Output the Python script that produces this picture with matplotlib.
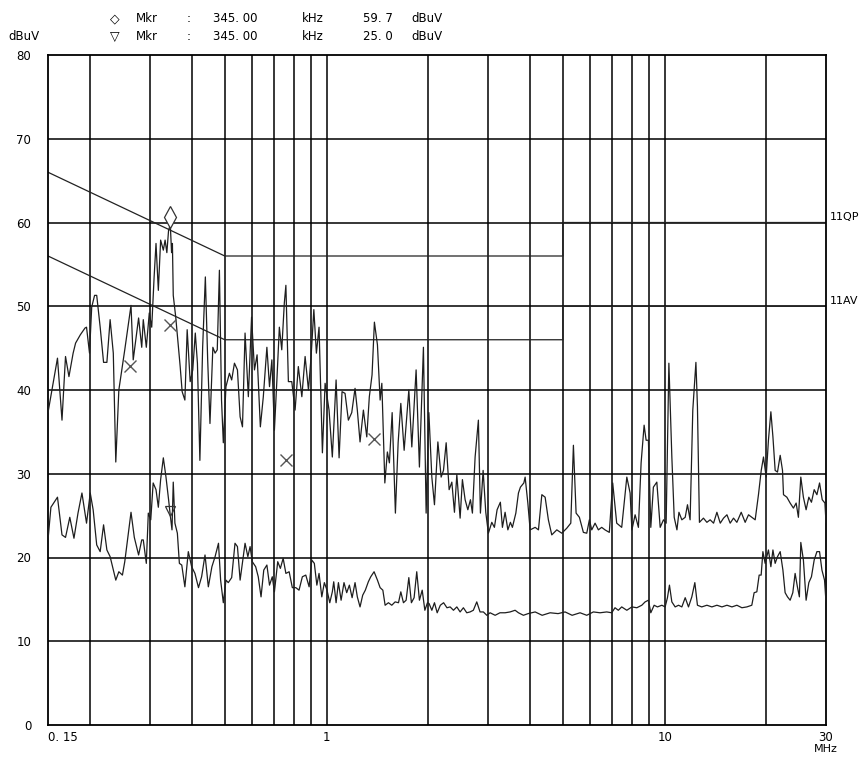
import matplotlib
matplotlib.use("Agg")
import matplotlib.pyplot as plt
from matplotlib.transforms import offset_copy, blended_transform_factory

# --- peak (QP) sweep: frequency in MHz, level in dBuV ---
qp_freq = [
    0.150, 0.160, 0.165, 0.169, 0.173, 0.178, 0.181, 0.187, 0.193, 0.195,
    0.199, 0.202, 0.206, 0.209, 0.214, 0.219, 0.224, 0.229, 0.234, 0.238,
    0.243, 0.253, 0.264, 0.268, 0.271, 0.278, 0.284, 0.287, 0.293, 0.299,
    0.304, 0.309, 0.313, 0.318, 0.323, 0.329, 0.333, 0.337, 0.341, 0.345,
    0.348, 0.350, 0.352, 0.358, 0.363, 0.369, 0.374, 0.381, 0.387, 0.395,
    0.402, 0.409, 0.415, 0.422, 0.430, 0.438, 0.445, 0.452, 0.461, 0.468,
    0.475, 0.482, 0.489, 0.495, 0.504, 0.516, 0.524, 0.534, 0.545, 0.555,
    0.564, 0.574, 0.587, 0.600, 0.612, 0.623, 0.637, 0.650, 0.666, 0.678,
    0.689, 0.701, 0.713, 0.725, 0.737, 0.750, 0.758, 0.771, 0.789, 0.807,
    0.825, 0.845, 0.864, 0.884, 0.900, 0.917, 0.933, 0.950, 0.972, 0.990,
    1.017, 1.040, 1.067, 1.089, 1.111, 1.134, 1.160, 1.187, 1.214, 1.233,
    1.256, 1.285, 1.315, 1.338, 1.363, 1.385, 1.414, 1.440, 1.457, 1.487,
    1.513, 1.534, 1.563, 1.598, 1.628, 1.658, 1.696, 1.751, 1.787, 1.840,
    1.882, 1.934, 1.970, 2.007, 2.048, 2.085, 2.134, 2.182, 2.217, 2.258,
    2.304, 2.347, 2.389, 2.428, 2.483, 2.522, 2.569, 2.617, 2.664, 2.700,
    2.750, 2.812, 2.851, 2.904, 2.957, 3.010, 3.081, 3.136, 3.194, 3.266,
    3.312, 3.373, 3.437, 3.497, 3.545, 3.629, 3.694, 3.744, 3.832, 3.866,
    3.938, 4.000, 4.139, 4.233, 4.332, 4.430, 4.529, 4.635, 4.797, 4.963,
    5.134, 5.276, 5.371, 5.470, 5.594, 5.748, 5.882, 5.988, 6.086, 6.225,
    6.366, 6.512, 6.660, 6.858, 7.019, 7.213, 7.463, 7.727, 7.902, 7.999,
    8.176, 8.362, 8.517, 8.693, 8.813, 8.951, 9.098, 9.260, 9.479, 9.698,
    9.919, 10.10, 10.29, 10.50, 10.67, 10.87, 11.02, 11.24, 11.50, 11.68,
    11.89, 12.11, 12.37, 12.50, 12.67, 13.02, 13.33, 13.63, 13.95, 14.27,
    14.60, 14.93, 15.28, 15.62, 15.98, 16.35, 16.84, 17.30, 17.70, 18.10,
    18.52, 18.94, 19.30, 19.60, 19.96, 20.27, 20.61, 20.90, 21.22, 21.56,
    21.96, 22.31, 22.46, 22.98, 23.50, 24.03, 24.48, 24.86, 25.27, 25.72,
    26.20, 26.69, 27.17, 27.68, 28.20, 28.71, 29.24, 29.78, 30.00,
]
qp_level = [
    37.3, 43.8, 36.4, 44.0, 41.6, 44.4, 45.6, 46.6, 47.4, 47.5,
    44.4, 49.9, 51.3, 51.3, 47.5, 43.3, 43.3, 48.4, 44.4, 31.4,
    40.0, 44.8, 50.1, 43.6, 45.1, 48.6, 45.1, 48.4, 45.1, 49.2,
    47.5, 53.5, 57.5, 51.9, 57.9, 56.7, 57.9, 56.4, 59.1, 59.7,
    56.4, 57.5, 51.3, 48.7, 46.0, 42.8, 39.8, 38.8, 47.2, 41.0,
    42.4, 46.8, 43.2, 31.6, 45.1, 53.5, 43.6, 36.0, 45.1, 44.4,
    44.8, 54.3, 38.8, 33.7, 40.4, 42.0, 41.2, 43.2, 42.4, 36.8,
    35.6, 46.8, 39.2, 48.7, 42.4, 44.2, 35.6, 39.2, 45.1, 40.4,
    43.6, 35.2, 41.2, 47.5, 44.8, 50.4, 52.5, 41.0, 41.0, 37.6,
    42.8, 39.2, 44.0, 40.0, 44.0, 49.6, 44.4, 47.5, 32.5, 40.8,
    37.6, 32.0, 41.2, 31.9, 39.8, 39.6, 36.4, 37.3, 40.2, 37.6,
    33.8, 37.6, 34.4, 39.2, 41.8, 48.1, 45.4, 38.8, 40.8, 28.9,
    32.6, 31.3, 37.3, 25.3, 33.7, 38.4, 32.8, 40.0, 33.2, 42.4,
    30.8, 45.1, 25.3, 37.3, 29.6, 26.3, 33.8, 29.6, 30.4, 33.7,
    28.1, 29.0, 25.4, 29.9, 24.7, 29.3, 26.9, 25.7, 26.9, 25.3,
    32.0, 36.4, 25.3, 30.4, 25.4, 22.9, 24.2, 23.6, 25.7, 26.6,
    23.6, 25.4, 23.3, 24.2, 23.6, 25.3, 27.7, 28.4, 28.9, 29.6,
    26.5, 23.3, 23.6, 23.3, 27.5, 27.2, 24.5, 22.7, 23.3, 22.9,
    23.5, 24.1, 33.4, 25.3, 24.8, 23.0, 22.9, 24.5, 23.3, 24.1,
    23.3, 23.6, 23.3, 23.0, 28.9, 24.1, 23.6, 29.6, 27.7, 23.3,
    25.1, 23.6, 31.3, 35.8, 34.0, 34.0, 23.6, 28.4, 29.0, 23.6,
    24.5, 24.1, 43.2, 32.0, 24.8, 23.3, 25.4, 24.5, 24.8, 26.3,
    24.5, 37.6, 43.3, 38.0, 24.2, 24.7, 24.2, 24.5, 24.1, 25.4,
    24.1, 24.7, 25.1, 24.1, 24.7, 24.2, 25.4, 24.2, 25.1, 24.8,
    24.5, 27.5, 30.4, 32.0, 29.6, 34.0, 37.4, 34.4, 30.4, 30.2,
    32.2, 30.4, 27.5, 27.2, 26.5, 25.9, 26.5, 24.8, 29.6, 27.2,
    25.7, 27.2, 26.6, 28.1, 27.5, 28.9, 26.9, 26.5, 24.2,
]

# --- average sweep ---
av_freq = [
    0.150, 0.153, 0.160, 0.165, 0.169, 0.174, 0.179, 0.184, 0.189, 0.195,
    0.200, 0.204, 0.209, 0.214, 0.219, 0.224, 0.229, 0.234, 0.238, 0.243,
    0.249, 0.253, 0.264, 0.270, 0.278, 0.284, 0.287, 0.293, 0.297, 0.302,
    0.307, 0.313, 0.318, 0.323, 0.329, 0.335, 0.341, 0.345, 0.349, 0.352,
    0.356, 0.362, 0.367, 0.373, 0.381, 0.390, 0.399, 0.408, 0.418, 0.427,
    0.437, 0.447, 0.458, 0.468, 0.479, 0.486, 0.495, 0.504, 0.512, 0.524,
    0.536, 0.545, 0.555, 0.574, 0.585, 0.594, 0.603, 0.617, 0.628, 0.640,
    0.652, 0.666, 0.678, 0.691, 0.701, 0.717, 0.730, 0.744, 0.758, 0.775,
    0.792, 0.811, 0.829, 0.848, 0.868, 0.888, 0.904, 0.920, 0.936, 0.950,
    0.968, 0.985, 1.003, 1.022, 1.040, 1.050, 1.067, 1.084, 1.104, 1.126,
    1.147, 1.168, 1.190, 1.214, 1.233, 1.256, 1.279, 1.302, 1.329, 1.351,
    1.382, 1.414, 1.440, 1.467, 1.490, 1.524, 1.559, 1.595, 1.632, 1.658,
    1.688, 1.719, 1.751, 1.782, 1.815, 1.848, 1.882, 1.918, 1.953, 1.988,
    2.010, 2.048, 2.085, 2.124, 2.170, 2.219, 2.270, 2.320, 2.373, 2.428,
    2.483, 2.539, 2.598, 2.657, 2.717, 2.781, 2.844, 2.909, 2.978, 3.045,
    3.152, 3.257, 3.373, 3.490, 3.611, 3.694, 3.821, 3.946, 4.139, 4.341,
    4.583, 4.838, 5.076, 5.324, 5.620, 5.882, 6.153, 6.439, 6.739, 6.971,
    7.130, 7.293, 7.463, 7.727, 7.999, 8.272, 8.557, 8.752, 8.951, 9.098,
    9.306, 9.518, 9.811, 10.03, 10.19, 10.33, 10.50, 10.74, 10.99, 11.24,
    11.50, 11.76, 12.03, 12.28, 12.50, 12.87, 13.33, 13.79, 14.27, 14.77,
    15.28, 15.81, 16.35, 16.92, 17.50, 18.10, 18.39, 18.73, 19.03, 19.29,
    19.52, 19.82, 20.05, 20.27, 20.61, 20.90, 21.22, 21.56, 21.96, 22.37,
    22.71, 23.08, 23.50, 23.93, 24.31, 24.69, 25.03, 25.27, 25.72, 26.20,
    26.69, 27.17, 27.68, 28.20, 28.71, 29.18, 29.70, 30.00,
]
av_level = [
    22.1, 26.0, 27.2, 22.7, 22.4, 24.8, 22.3, 25.3, 27.7, 24.1,
    27.7, 25.7, 21.5, 20.7, 23.9, 20.9, 20.1, 18.5, 17.3, 18.3,
    17.9, 19.5, 25.4, 22.4, 20.3, 22.1, 22.1, 19.3, 25.3, 24.5,
    28.9, 28.1, 26.0, 29.3, 31.9, 29.6, 26.9, 25.0, 23.3, 29.0,
    24.1, 22.9, 19.3, 19.1, 16.5, 20.7, 18.9, 18.1, 16.4, 17.7,
    20.3, 16.5, 18.9, 20.1, 21.7, 17.3, 14.6, 17.3, 17.0, 17.6,
    21.7, 21.3, 17.3, 21.7, 20.1, 21.3, 19.5, 18.9, 17.7, 15.3,
    18.5, 19.1, 16.7, 17.7, 15.9, 19.5, 18.7, 19.9, 18.1, 18.3,
    16.4, 16.4, 16.1, 17.7, 17.9, 16.5, 19.7, 19.3, 16.7, 18.1,
    15.3, 17.0, 16.1, 14.6, 15.9, 17.1, 14.6, 17.0, 14.9, 17.0,
    15.8, 16.7, 15.2, 17.0, 15.3, 14.1, 15.5, 16.1, 17.1, 17.7,
    18.3, 17.3, 16.4, 16.1, 14.3, 14.6, 14.3, 14.7, 14.6, 15.9,
    14.6, 14.9, 17.6, 14.6, 15.2, 18.3, 14.9, 16.1, 13.7, 14.6,
    14.5, 13.7, 14.6, 13.4, 14.3, 14.6, 14.0, 14.1, 13.7, 14.1,
    13.5, 14.0, 13.4, 13.5, 13.7, 14.7, 13.5, 13.5, 13.1, 13.4,
    13.1, 13.4, 13.4, 13.5, 13.7, 13.4, 13.1, 13.3, 13.5, 13.1,
    13.4, 13.3, 13.5, 13.1, 13.4, 13.1, 13.5, 13.4, 13.5, 13.4,
    14.0, 13.7, 14.1, 13.7, 14.1, 14.0, 14.3, 14.7, 14.9, 13.4,
    14.3, 14.1, 14.3, 14.1, 15.2, 16.7, 14.7, 14.1, 14.3, 14.1,
    15.2, 14.1, 15.3, 17.0, 14.3, 14.1, 14.3, 14.1, 14.3, 14.1,
    14.3, 14.1, 14.3, 14.0, 14.1, 14.3, 15.8, 15.9, 17.9, 17.9,
    20.7, 19.3, 20.1, 20.9, 18.9, 20.9, 19.3, 20.1, 20.7, 18.5,
    15.8, 15.3, 14.9, 15.8, 18.1, 16.5, 15.3, 21.8, 19.7, 14.9,
    17.0, 17.7, 19.7, 20.7, 20.7, 18.5, 17.3, 14.7,
]

# EN55022 class B limit lines
lim_freq = [0.15, 0.5, 0.5, 5.0, 5.0, 30.0]
lim_qp = [66, 56, 56, 56, 60, 60]
lim_av = [56, 46, 46, 46, 50, 50]

# final measurement points (x) and markers
cross_freq = [0.262, 0.345, 0.758, 1.382]
cross_level = [42.9, 47.8, 31.6, 34.2]
mkr_freq = 0.345
mkr_qp = 59.7
mkr_av = 25.0

grid_freqs = [0.2, 0.3, 0.4, 0.5, 0.6, 0.7, 0.8, 0.9, 1, 2, 3, 4, 5, 6, 7, 8, 9, 10, 20]
grid_levels = [10, 20, 30, 40, 50, 60, 70]

W, H = 867, 758
fig = plt.figure(figsize=(W / 100, H / 100), dpi=100)
ax = fig.add_axes([48 / W, 1 - 725 / H, 778 / W, 670 / H])
ax.set_xscale("log")
ax.set_xlim(0.15, 30)
ax.set_ylim(0, 80)

for f in grid_freqs:
    ax.axvline(f, color="black", lw=1.1, zorder=1)
for lv in grid_levels:
    ax.axhline(lv, color="black", lw=1.1, zorder=1)

ax.plot(lim_freq, lim_qp, color="#222222", lw=0.9, zorder=2)
ax.plot(lim_freq, lim_av, color="#222222", lw=0.9, zorder=2)

ax.plot(qp_freq, qp_level, color="#1e1e1e", lw=0.9, zorder=3)
ax.plot(av_freq, av_level, color="#1e1e1e", lw=0.9, zorder=3)

ax.plot(cross_freq, cross_level, "x", color="#555555", ms=9, mew=1.0, zorder=4)

up6 = offset_copy(ax.transData, fig=fig, x=0, y=6, units="points")
up3 = offset_copy(ax.transData, fig=fig, x=0, y=3, units="points")
ax.plot([mkr_freq], [mkr_qp], marker="d", ms=11, mfc="white", mec="#333333",
        mew=0.9, transform=up6, zorder=5)
ax.plot([mkr_freq], [mkr_av], marker="v", ms=7, mfc="none", mec="#333333",
        mew=0.9, transform=up3, zorder=5)

for s in ax.spines.values():
    s.set_linewidth(1.3)

ax.set_yticks(range(0, 81, 10))
ax.set_yticklabels([str(v) for v in range(0, 81, 10)])
ax.set_xticks([0.15, 1, 10, 30])
ax.set_xticklabels(["0. 15", "1", "10", "30"])
ax.minorticks_off()
ax.tick_params(length=0, labelsize=8.5)
ax.tick_params(axis="y", pad=12)
ax.tick_params(axis="x", pad=4)
ax.get_xticklabels()[0].set_horizontalalignment("left")

# limit names on the right edge
tr = blended_transform_factory(ax.transAxes, ax.transData)
ax.text(1.005, 60.6, "11QP", transform=tr, fontsize=8, va="center", ha="left")
ax.text(1.005, 50.6, "11AV", transform=tr, fontsize=8, va="center", ha="left")

fig.text(826 / W, 1 - 749 / H, "MHz", fontsize=8, ha="center", va="center")
fig.text(8 / W, 1 - 36 / H, "dBuV", fontsize=8.5, ha="left", va="center")

# marker readout header
rows = [(19, "\u25c7", "59. 7"), (36, "\u25bd", "25. 0")]
for y, sym, val in rows:
    yy = 1 - y / H
    fig.text(110 / W, yy, sym, fontsize=9, ha="left", va="center")
    fig.text(136 / W, yy, "Mkr", fontsize=8.5, ha="left", va="center")
    fig.text(187 / W, yy, ":", fontsize=8.5, ha="left", va="center")
    fig.text(213 / W, yy, "345. 00", fontsize=8.5, ha="left", va="center")
    fig.text(302 / W, yy, "kHz", fontsize=8.5, ha="left", va="center")
    fig.text(363 / W, yy, val, fontsize=8.5, ha="left", va="center")
    fig.text(411 / W, yy, "dBuV", fontsize=8.5, ha="left", va="center")

fig.savefig("out.png", dpi=100)
